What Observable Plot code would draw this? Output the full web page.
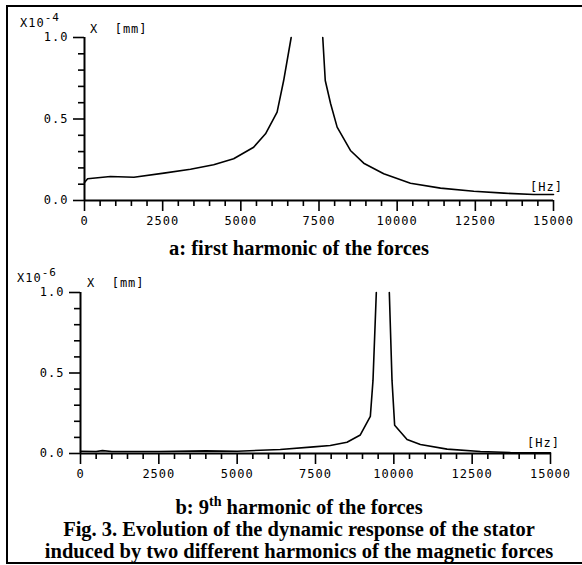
<!DOCTYPE html>
<html><head><meta charset="utf-8">
<script src="https://cdn.jsdelivr.net/npm/d3@7"></script>
<script src="https://cdn.jsdelivr.net/npm/@observablehq/plot@0.6"></script>
<style>
body{margin:0;background:#fff}
#wrap{position:relative;width:582px;height:565px;overflow:hidden;background:#fff}
.frame{position:absolute;left:6px;top:5px;width:600px;height:555px;border-left:2px solid #000;border-top:2px solid #000;border-bottom:2px solid #000}
.plot{position:absolute;left:0}
.lbl{position:absolute;font-family:"DejaVu Sans Mono",monospace;font-size:12px;letter-spacing:1px;white-space:nowrap;line-height:1;color:#000}
.sup{position:relative;top:-6px;font-size:11px}
.cap{position:absolute;left:0;width:598px;height:20px;text-align:center;font-family:"Liberation Serif",serif;font-weight:bold;font-size:20.5px;white-space:nowrap;line-height:20px;color:#000}
.th{position:relative;top:-8px;font-size:14px;line-height:0}
</style></head>
<body><div id="wrap"><div class="frame"></div></div>
<script>
// tick values
const xMajor = [0, 2500, 5000, 7500, 10000, 12500, 15000];
const xMinor = [500,1000,1500,2000,3000,3500,4000,4500,5500,6000,6500,7000,8000,8500,9000,9500,10500,11000,11500,12000,13000,13500,14000,14500];
const yMajor = [0, 0.5, 1.0];
const yMinor = [0.1,0.2,0.3,0.4,0.6,0.7,0.8,0.9];

// (a) first harmonic, amplitude in 1e-4 mm — below and above resonance (clipped at 1.0)
const freqA_low = [0, 100, 830, 1580, 2540, 3390, 4130, 4770, 5410, 5790, 6160, 6370, 6610];
const ampA_low  = [0.11, 0.133, 0.147, 0.143, 0.168, 0.192, 0.219, 0.256, 0.327, 0.409, 0.542, 0.736, 1.0];
const freqA_high = [7620, 7700, 7870, 8080, 8505, 8930, 9570, 10425, 11385, 12450, 13410, 14370, 15000];
const ampA_high  = [1.0, 0.736, 0.595, 0.45, 0.307, 0.229, 0.164, 0.106, 0.076, 0.057, 0.045, 0.037, 0.037];

// (b) 9th harmonic, amplitude in 1e-6 mm
const freqB_low = [0, 500, 700, 1000, 2500, 4000, 5000, 6374, 7438, 7971, 8505, 8930, 9250, 9335, 9441];
const ampB_low  = [0.014, 0.012, 0.018, 0.012, 0.012, 0.016, 0.014, 0.025, 0.041, 0.05, 0.07, 0.115, 0.23, 0.454, 1.0];
const freqB_high = [9856, 9942, 10026, 10422, 10847, 11700, 12764, 13722, 15000];
const ampB_high  = [1.0, 0.454, 0.175, 0.087, 0.056, 0.027, 0.012, 0.006, 0.004];

function rows(f, a, branch){ return f.map((x,i)=>({f:x, a:a[i], branch})); }

function makePlot(data, opts){
  return Plot.plot({
    width: 582, height: opts.height,
    marginLeft: opts.ml, marginRight: opts.mr, marginTop: opts.mt, marginBottom: opts.mb,
    x: {domain: [0, 15000]},
    y: {domain: [0, 1]},
    style: {fontFamily: "DejaVu Sans Mono", fontSize: "12px", letterSpacing: "1px", color: "#000", background: "transparent", overflow: "visible"},
    marks: [
      Plot.axisX(xMinor, {tickSize: 6, tickFormat: () => "", strokeWidth: 1.6, label: null}),
      Plot.axisX(xMajor, {tickSize: 11, tickPadding: 5, tickFormat: d => String(d), strokeWidth: 1.6, label: null}),
      Plot.axisY(yMinor, {tickSize: 6, tickFormat: () => "", strokeWidth: 1.6, label: null}),
      Plot.axisY(yMajor, {tickSize: 11, tickPadding: 5, tickFormat: d => d.toFixed(1), strokeWidth: 1.6, label: null}),
      Plot.ruleY([0], {strokeWidth: 2}),
      Plot.ruleX([0], {strokeWidth: 2}),
      Plot.line(data, {x: "f", y: "a", z: "branch", stroke: "#000", strokeWidth: 1.6, curve: "linear"})
    ]
  });
}

const wrap = document.getElementById("wrap");
const pa = makePlot([...rows(freqA_low, ampA_low, "lo"), ...rows(freqA_high, ampA_high, "hi")], {height: 230, ml: 84, mr: 29, mt: 37, mb: 30});
pa.classList.add("plot"); pa.style.top = "0px"; wrap.appendChild(pa);
const pb = makePlot([...rows(freqB_low, ampB_low, "lo"), ...rows(freqB_high, ampB_high, "hi")], {height: 228, ml: 80, mr: 32, mt: 37, mb: 30});
pb.classList.add("plot"); pb.style.top = "255px"; wrap.appendChild(pb);

function addHTML(cls, left, top, html){
  const d = document.createElement("div"); d.className = cls;
  if (left !== null) d.style.left = left + "px";
  d.style.top = top + "px"; d.innerHTML = html; wrap.appendChild(d);
}
addHTML("lbl", 20, 17, 'X10<span class="sup">-4</span>');
addHTML("lbl", 90, 23, 'X&nbsp;&nbsp;[mm]');
addHTML("lbl", 530, 181, '[Hz]');
addHTML("lbl", 17, 272, 'X10<span class="sup">-6</span>');
addHTML("lbl", 87, 277, 'X&nbsp;&nbsp;[mm]');
addHTML("lbl", 527, 437, '[Hz]');
addHTML("cap", null, 238, 'a: first harmonic of the forces');
addHTML("cap", null, 497, 'b: 9<span class="th">th</span> harmonic of the forces');
addHTML("cap", null, 519, 'Fig. 3. Evolution of the dynamic response of the stator');
addHTML("cap", null, 541, 'induced by two different harmonics of the magnetic forces');
</script></body></html>
